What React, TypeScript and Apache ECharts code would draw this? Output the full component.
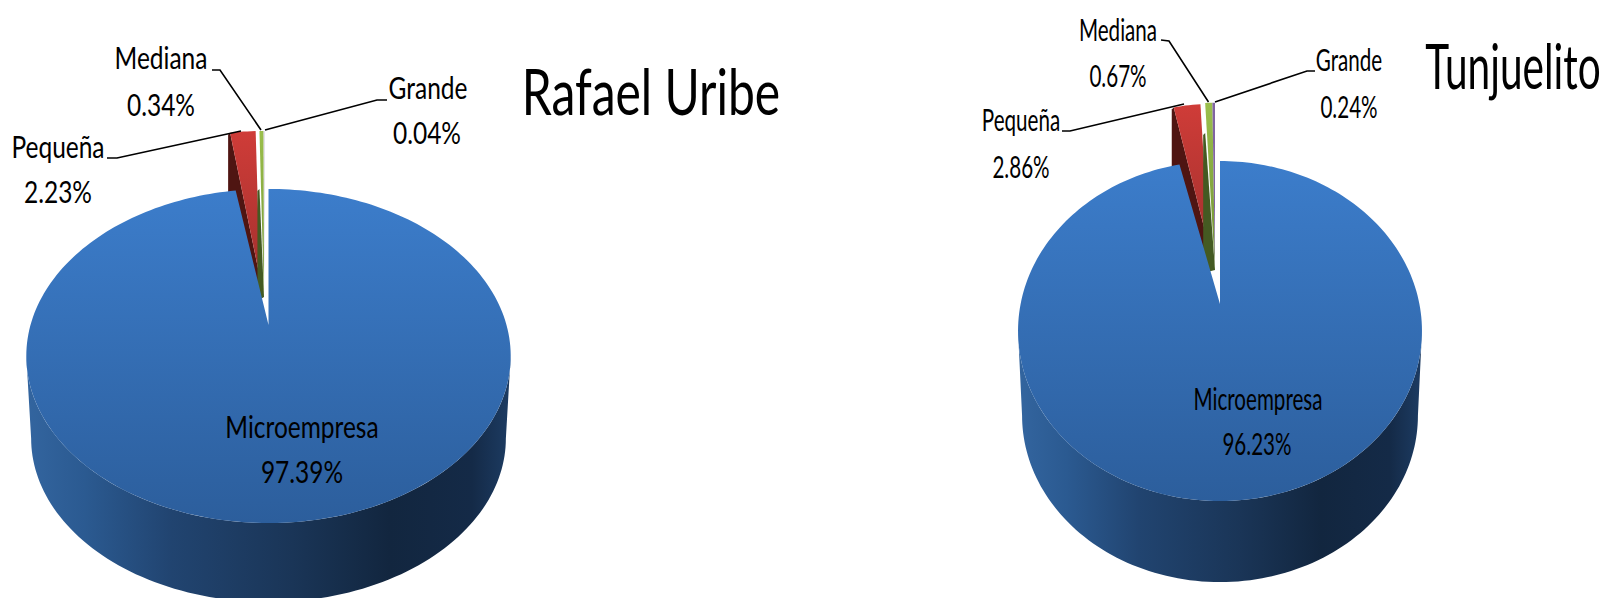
import React, { useEffect, useRef } from "react";
import * as echarts from "echarts";

const categories = ["Microempresa", "Pequeña", "Mediana", "Grande"];
const rafaelValues = [97.39, 2.23, 0.34, 0.04];
const tunjuelitoValues = [96.23, 2.86, 0.67, 0.24];
const titles = ["Rafael Uribe", "Tunjuelito"];

const FONT = "Lato, 'Open Sans', sans-serif";

type Vec = [number, number];
type SliceLayout = { apex: Vec; sx: number; sy: number; wallStart?: number; wallDrop?: number; wallTip?: number };

const pies = [
  {
    values: rafaelValues,
    title: titles[0],
    titlePos: [651, 90] as Vec,
    titleSize: 64,
    titleScale: 0.75,
    labelSize: 31,
    labelScale: 0.79,
    cx: 268.5, cy: 325, A: 161.3, B: 238, k: 0.1856, depth: 83, lower: 0.98,
    slices: {
      Pequeña: { apex: [260, 278] as Vec, sx: 0.91, sy: 1.08, wallStart: 0, wallDrop: 76, wallTip: 20 },
      Mediana: { apex: [264, 297] as Vec, sx: 0.95, sy: 1.22, wallStart: 58, wallDrop: 170, wallTip: 0 },
      Grande: { apex: [264.5, 297] as Vec, sx: 1.6, sy: 1.22 },
    } as Record<string, SliceLayout>,
    labels: {
      Microempresa: { name: [302, 426] as Vec, pct: [302, 471] as Vec },
      Pequeña: { name: [58, 146] as Vec, pct: [58, 191] as Vec, line: [[107, 158], [117, 158], [241, 131]] as Vec[] },
      Mediana: { name: [161, 57] as Vec, pct: [161, 104] as Vec, line: [[212, 70], [220, 70], [261, 130]] as Vec[] },
      Grande: { name: [428, 87] as Vec, pct: [427, 132] as Vec, line: [[387, 100], [377, 100], [265, 130]] as Vec[] },
    } as Record<string, { name: Vec; pct: Vec; line?: Vec[] }>,
    grandeColor: "#c9c3d8",
  },
  {
    values: tunjuelitoValues,
    title: titles[1],
    titlePos: [1513, 65] as Vec,
    titleSize: 62,
    titleScale: 0.655,
    labelSize: 31,
    labelScale: 0.665,
    cx: 1220, cy: 304, A: 165.7, B: 199.4, k: 0.159, depth: 85, lower: 0.98,
    slices: {
      Pequeña: { apex: [1209, 247] as Vec, sx: 0.87, sy: 1.0, wallStart: 0, wallDrop: 76, wallTip: 20 },
      Mediana: { apex: [1215, 270] as Vec, sx: 1.0, sy: 1.17, wallStart: 30, wallDrop: 170, wallTip: 0 },
      Grande: { apex: [1215, 270] as Vec, sx: 1.0, sy: 1.17 },
    } as Record<string, SliceLayout>,
    labels: {
      Microempresa: { name: [1258, 398] as Vec, pct: [1257, 443] as Vec },
      Pequeña: { name: [1021, 119] as Vec, pct: [1021, 166] as Vec, line: [[1062, 131], [1070, 131], [1184, 104]] as Vec[] },
      Mediana: { name: [1118, 29] as Vec, pct: [1118, 75] as Vec, line: [[1161, 40], [1169, 41], [1208.5, 102]] as Vec[] },
      Grande: { name: [1349, 59] as Vec, pct: [1349, 106] as Vec, line: [[1315, 71], [1307, 71], [1215, 102]] as Vec[] },
    } as Record<string, { name: Vec; pct: Vec; line?: Vec[] }>,
    grandeColor: "#8064a2",
  },
];

const sliceColors: Record<string, { top: string; bottom: string; wall: string }> = {
  Pequeña: { top: "#cf3c38", bottom: "#a5312e", wall: "#4f1512" },
  Mediana: { top: "#9bbf4c", bottom: "#6f8f35", wall: "#445a22" },
};

function vGrad(a: string, b: string) {
  return new echarts.graphic.LinearGradient(0, 0, 0, 1, [
    { offset: 0, color: a },
    { offset: 1, color: b },
  ]);
}

function buildPie(pie: (typeof pies)[number]) {
  const project = (deg: number): Vec => {
    const a = (deg * Math.PI) / 180;
    const u = Math.sin(a);
    const v = -Math.cos(a);
    const d = 1 - pie.k * v;
    return [(pie.B * u) / d, (pie.A * v) / d];
  };
  const sample = (from: number, to: number): number[] => {
    const n = Math.max(2, Math.ceil(Math.abs(to - from) / 1.5));
    const out: number[] = [];
    for (let i = 0; i <= n; i++) out.push(from + ((to - from) * i) / n);
    return out;
  };
  const blockOf = (i: number) => {
    let start = 0;
    for (let j = 0; j < i; j++) start += pie.values[j] * 3.6;
    return [start, start + pie.values[i] * 3.6];
  };
  const poly = (points: number[][], fill: any) => ({
    type: "polygon",
    shape: { points },
    style: { fill },
    silent: true,
  });
  const textEl = (text: string, p: Vec, size: number, scale: number) => ({
    type: "text",
    x: p[0],
    y: p[1],
    scaleX: scale,
    silent: true,
    style: {
      text,
      x: 0,
      y: 0,
      fill: "#000",
      align: "center",
      verticalAlign: "middle",
      font: `${size}px ${FONT}`,
    },
  });
  // the rim's silhouette leaves the top face where the projected circle is widest
  const widest = (Math.acos(-pie.k) * 180) / Math.PI;

  return {
    type: "custom",
    coordinateSystem: "none",
    silent: true,
    clip: false,
    // painted back to front: exploded slices sit behind the main slice
    data: [1, 2, 3, 0].map((i) => ({ name: categories[i], value: [i, pie.values[i]] })),
    renderItem: (_p: any, api: any) => {
      const i = api.value(0) as number;
      const value = api.value(1) as number;
      const name = categories[i];
      const [from, to] = blockOf(i);
      const children: any[] = [];
      if (i === 0) {
        const arc = sample(from, to).map(project);
        const rim = sample(widest, 360 - widest);
        const wallTop = rim.map(project).map(([x, y]) => [pie.cx + x, pie.cy + y]);
        const wallLow = rim
          .map(project)
          .map(([x, y]) => [pie.cx + x * pie.lower, pie.cy + pie.depth + y * pie.lower])
          .reverse();
        children.push(
          poly(
            [...wallTop, ...wallLow],
            new echarts.graphic.LinearGradient(0, 0, 1, 0, [
              { offset: 0, color: "#33659f" },
              { offset: 0.12, color: "#2b5a91" },
              { offset: 0.3, color: "#214470" },
              { offset: 0.55, color: "#1a3557" },
              { offset: 0.75, color: "#12263f" },
              { offset: 0.92, color: "#142a47" },
              { offset: 1, color: "#1d3c63" },
            ])
          )
        );
        children.push(
          poly(
            [[pie.cx, pie.cy], ...arc.map(([x, y]) => [pie.cx + x, pie.cy + y])],
            vGrad("#3c7dcb", "#2c5e9c")
          )
        );
      } else {
        const s = pie.slices[name];
        const pts = sample(from, to)
          .map(project)
          .map(([x, y]) => [s.apex[0] + x * s.sx, s.apex[1] + y * s.sy]);
        const c = sliceColors[name];
        if (c) {
          const outer = pts[0];
          const start = s.wallStart ?? 0;
          const drop = s.wallDrop ?? 76;
          const tip = s.wallTip ?? 0;
          children.push(
            poly(
              [
                [outer[0], outer[1] + start],
                [s.apex[0], s.apex[1]],
                [s.apex[0], s.apex[1] + tip],
                [outer[0] - 2, outer[1] + drop],
                [outer[0] - 2, outer[1] + start + 2],
              ],
              c.wall
            )
          );
          children.push(poly([s.apex, ...pts], vGrad(c.top, c.bottom)));
        } else {
          children.push(poly([s.apex, ...pts], pie.grandeColor));
        }
      }
      const lab = pie.labels[name];
      if (lab.line) {
        children.push({
          type: "polyline",
          shape: { points: lab.line },
          style: { stroke: "#000", lineWidth: 1.6, fill: "none" },
          silent: true,
        });
      }
      children.push(textEl(name, lab.name, pie.labelSize, pie.labelScale));
      children.push(textEl(`${value.toFixed(2)}%`, lab.pct, pie.labelSize, pie.labelScale));
      return { type: "group", children };
    },
  };
}

export default function App() {
  const ref = useRef<HTMLDivElement>(null);
  useEffect(() => {
    document.body.style.margin = "0";
    const chart = echarts.init(ref.current!, undefined, { renderer: "svg" });
    chart.setOption({
      animation: false,
      backgroundColor: "#fff",
      graphic: pies.map((p) => ({
        type: "text",
        x: p.titlePos[0],
        y: p.titlePos[1],
        scaleX: p.titleScale,
        z: 10,
        style: {
          text: p.title,
          x: 0,
          y: 0,
          fill: "#000",
          align: "center",
          verticalAlign: "middle",
          font: `${p.titleSize}px ${FONT}`,
        },
      })),
      series: pies.map(buildPie),
    });
    return () => chart.dispose();
  }, []);
  return <div ref={ref} style={{ width: 1609, height: 598, overflow: "hidden" }} />;
}
